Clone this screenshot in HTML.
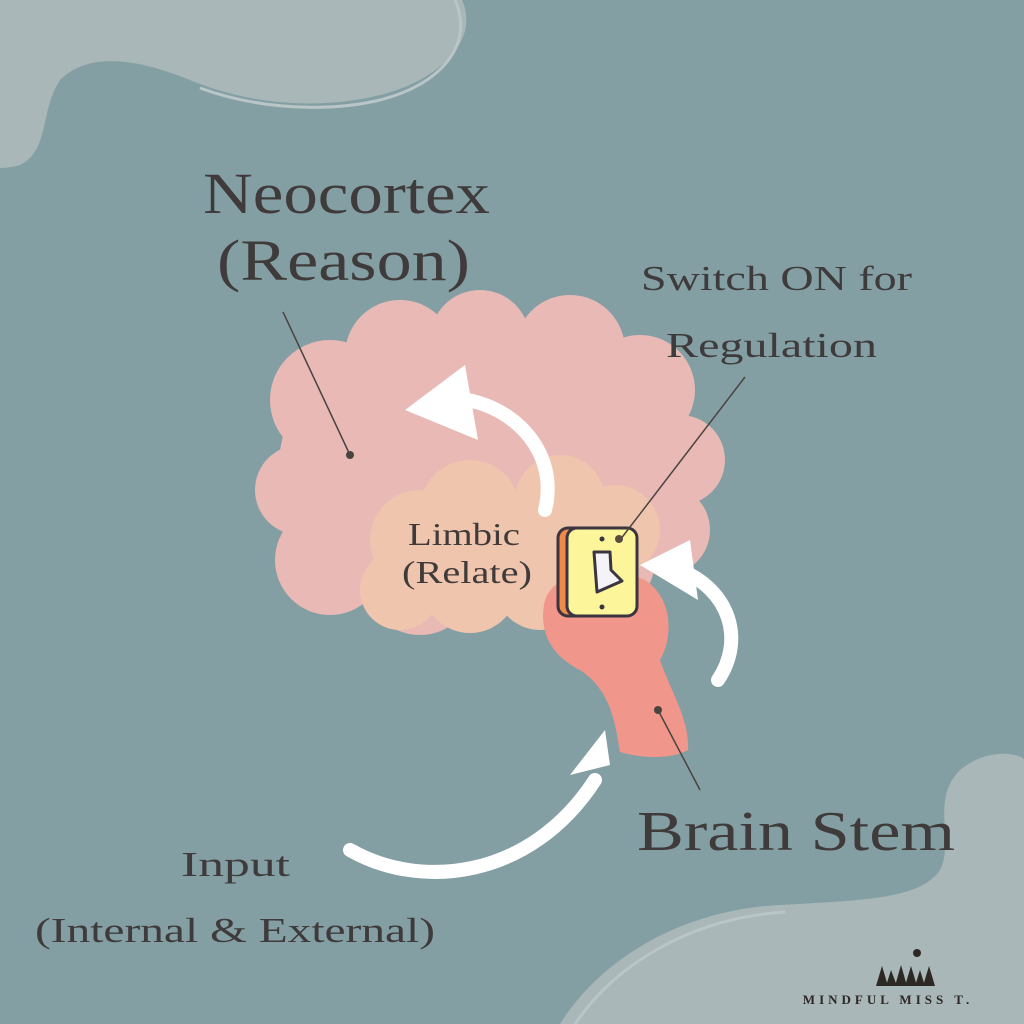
<!DOCTYPE html>
<html><head><style>
html,body{margin:0;padding:0;width:1024px;height:1024px;overflow:hidden;background:#849fa4}
svg{display:block}
text{font-family:"Liberation Serif",serif;fill:#3f3b3a}
</style></head><body>
<svg width="1024" height="1024" viewBox="0 0 1024 1024">
<rect width="1024" height="1024" fill="#849fa4"/>
<path d="M0 0 H462 C480 40 440 80 380 95 C320 110 250 105 190 80 C140 60 90 50 60 80 C40 110 50 150 20 165 C10 168 0 168 0 168 Z" fill="#a9b7b8"/>
<path d="M455 0 C475 45 440 85 380 100 C330 112 260 110 200 88" fill="none" stroke="#b9c5c6" stroke-width="3"/>
<path d="M560 1024 C600 960 680 910 780 905 C860 900 920 900 940 870 C955 840 930 800 960 770 C990 745 1024 755 1024 760 V1024 Z" fill="#a9b7b8"/>
<path d="M575 1024 C615 965 690 918 785 912" fill="none" stroke="#b9c5c6" stroke-width="3"/>
<g fill="#e8b9b5">
<path d="M290 400 L400 330 L560 320 L660 380 L700 460 L660 560 L560 620 L330 600 L270 500 Z"/>
<circle cx="330" cy="400" r="60"/><circle cx="400" cy="355" r="55"/><circle cx="480" cy="340" r="50"/>
<circle cx="570" cy="350" r="55"/><circle cx="640" cy="390" r="55"/><circle cx="680" cy="460" r="45"/>
<circle cx="300" cy="490" r="45"/><circle cx="330" cy="560" r="55"/><circle cx="420" cy="580" r="55"/>
<circle cx="600" cy="560" r="55"/><circle cx="500" cy="470" r="120"/><circle cx="665" cy="530" r="45"/>
</g>
<g fill="#efc5ad">
<circle cx="420" cy="540" r="50"/><circle cx="470" cy="510" r="50"/><circle cx="560" cy="500" r="45"/>
<circle cx="615" cy="530" r="45"/><circle cx="470" cy="585" r="48"/><circle cx="540" cy="585" r="45"/>
<circle cx="400" cy="590" r="40"/><circle cx="500" cy="550" r="50"/>
</g>
<path d="M545 600 C555 570 610 565 645 580 C675 600 672 640 660 660 C670 690 690 720 688 750 C670 760 640 758 620 752 C615 720 610 690 580 670 C550 655 538 630 545 600 Z" fill="#f1968a"/>
<g fill="none" stroke="#fff" stroke-width="14" stroke-linecap="round">
<path d="M545 510 C560 450 510 400 450 398"/>
<path d="M350 850 C420 890 530 880 595 780"/>
<path d="M718 680 C745 640 730 590 680 570"/>
</g>
<g fill="#fff">
<polygon points="405,410 465,365 478,440"/>
<polygon points="610,765 570,775 605,730"/>
<polygon points="640,565 690,540 698,600"/>
</g>
<rect x="558" y="528" width="70" height="88" rx="10" fill="#f08a4b" stroke="#3a3540" stroke-width="3"/>
<rect x="567" y="528" width="70" height="88" rx="10" fill="#fdf59a" stroke="#3a3540" stroke-width="3"/>
<circle cx="602" cy="539" r="2.5" fill="#3a3540"/><circle cx="619" cy="539" r="2.5" fill="#3a3540"/><circle cx="602" cy="607" r="2.5" fill="#3a3540"/>
<path d="M594 552 H610 L611 570 L622 581 L597 592 Z" fill="#f4f4f8" stroke="#3a3540" stroke-width="3" stroke-linejoin="round"/>
<g stroke="#4a4440" stroke-width="1.5">
<line x1="283" y1="312" x2="350" y2="455"/>
<line x1="745" y1="377" x2="620" y2="540"/>
<line x1="658" y1="710" x2="700" y2="790"/>
</g>
<circle cx="350" cy="455" r="4" fill="#4a4440"/><circle cx="619" cy="539" r="4" fill="#5a4a40"/><circle cx="658" cy="710" r="4" fill="#4a4440"/>
<text x="203" y="213" font-size="58" textLength="287" lengthAdjust="spacingAndGlyphs">Neocortex</text>
<text x="217" y="280" font-size="58" textLength="253" lengthAdjust="spacingAndGlyphs">(Reason)</text>
<text x="641" y="290" font-size="35" textLength="271" lengthAdjust="spacingAndGlyphs">Switch ON for</text>
<text x="666" y="357" font-size="35" textLength="211" lengthAdjust="spacingAndGlyphs">Regulation</text>
<text x="408" y="545" font-size="32" textLength="112" lengthAdjust="spacingAndGlyphs">Limbic</text>
<text x="402" y="583" font-size="32" textLength="130" lengthAdjust="spacingAndGlyphs">(Relate)</text>
<text x="637" y="850" font-size="56" textLength="318" lengthAdjust="spacingAndGlyphs">Brain Stem</text>
<text x="181" y="876" font-size="35" textLength="109" lengthAdjust="spacingAndGlyphs">Input</text>
<text x="35" y="942" font-size="35" textLength="400" lengthAdjust="spacingAndGlyphs">(Internal &amp; External)</text>
<g fill="#2e2824">
<polygon points="876,986 882,966 888,986"/><polygon points="886,986 891,970 897,986"/><polygon points="895,986 901,965 907,986"/>
<polygon points="905,986 911,966 917,986"/><polygon points="915,986 920,970 925,986"/><polygon points="923,986 929,966 935,986"/>
<circle cx="917" cy="953" r="4"/>
</g>
<text x="888" y="1004" font-size="13" text-anchor="middle" letter-spacing="4" font-weight="bold" style="fill:#2e2824">MINDFUL MISS T.</text>
</svg>
</body></html>
